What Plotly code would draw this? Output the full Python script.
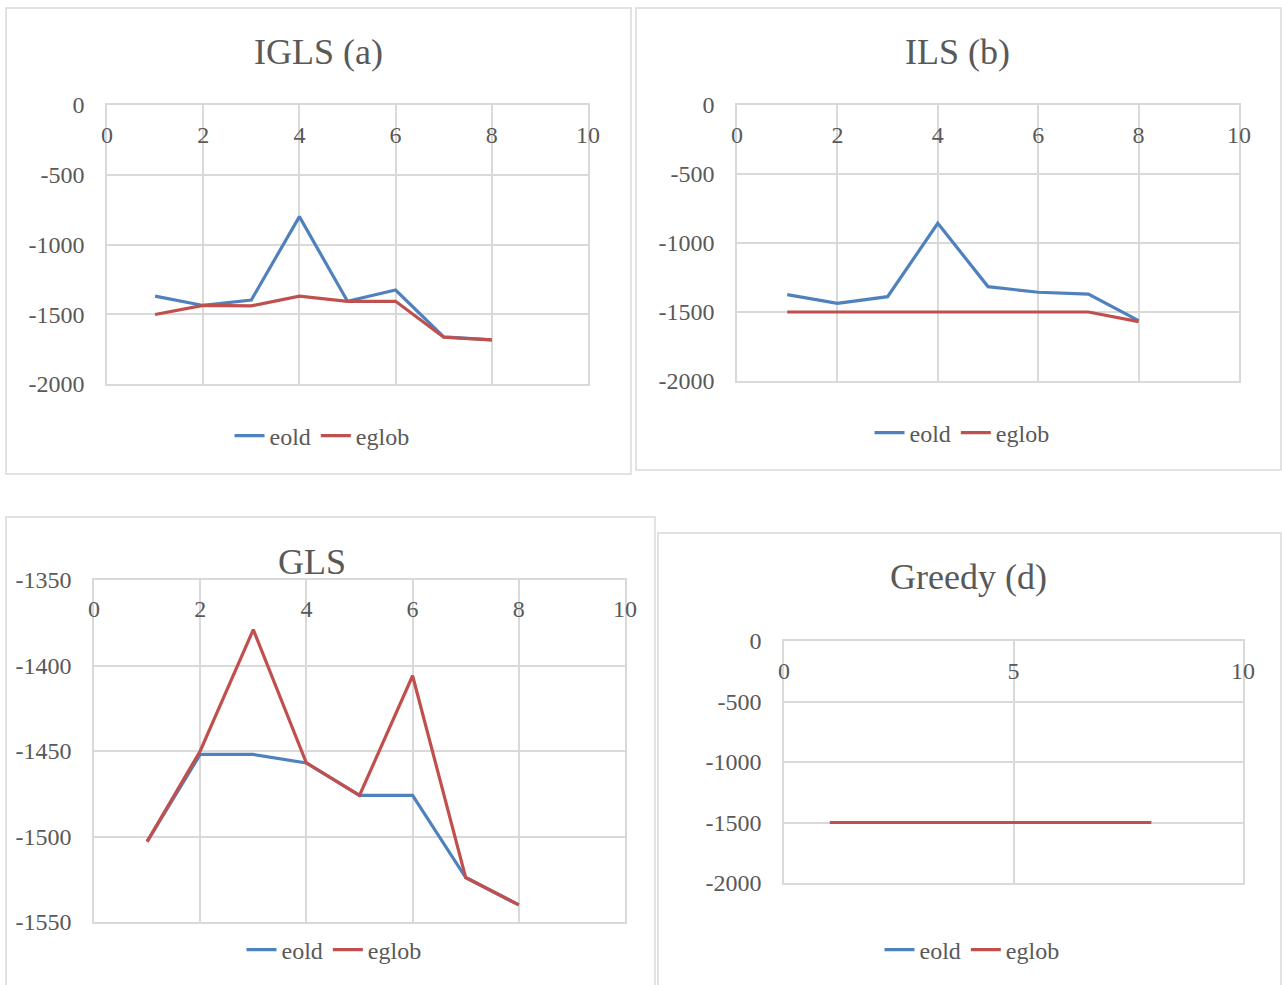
import plotly.graph_objects as go

W, H = 1282, 985

iterations = [1, 2, 3, 4, 5, 6, 7, 8]

igls_eold = [-1370, -1437, -1398, -800, -1407, -1326, -1662, -1683]
igls_eglob = [-1502, -1437, -1440, -1370, -1407, -1407, -1665, -1683]

ils_eold = [-1374, -1437, -1389, -857, -1316, -1357, -1370, -1563]
ils_eglob = [-1500, -1500, -1500, -1500, -1500, -1500, -1500, -1570]

gls_eold = [-1503, -1452, -1452, -1457, -1476, -1476, -1524, -1540]
gls_eglob = [-1503, -1450, -1379, -1457, -1476, -1406, -1524, -1540]

greedy_eold = [-1500, -1500, -1500, -1500, -1500, -1500, -1500, -1500]
greedy_eglob = [-1500, -1500, -1500, -1500, -1500, -1500, -1500, -1500]

titles = ["IGLS (a)", "ILS (b)", "GLS", "Greedy (d)"]
series_names = ["eold", "eglob"]

x_ticks_10 = [0, 2, 4, 6, 8, 10]
x_ticks_5 = [0, 5, 10]
y_ticks_big = [0, -500, -1000, -1500, -2000]
y_ticks_big_text = ["0", "-500", "-1000", "-1500", "-2000"]
y_ticks_gls = [-1350, -1400, -1450, -1500, -1550]
y_ticks_gls_text = ["-1350", "-1400", "-1450", "-1500", "-1550"]

BLUE = "#4f81bd"
RED = "#c0504d"
GRID = "#d9d9d9"
TXT = "#595959"
FONT = "Liberation Serif"
TICK_SIZE = 24


def px_x(v):
    return v / W


def px_y(v):
    return 1 - v / H


# plot areas in pixels: (x0, x1, ytop, ybottom)
areas = [
    (107, 588, 105, 384),
    (737, 1239, 105, 381),
    (94, 625, 580, 922),
    (784, 1243, 641, 883),
]
# pixel row where the x tick labels sit (bottom of label strip)
xlabel_rows = [148, 148, 622, 684]
borders = [
    (6, 631, 8, 474),
    (636, 1281, 8, 470),
    (6, 655, 517, 990),
    (658, 1281, 533, 990),
]
title_pos = [(318, 52), (958, 52), (312, 562), (968, 577)]
legend_pos = [(322, 436), (962, 433), (334, 950), (972, 950)]

data = [
    (igls_eold, igls_eglob),
    (ils_eold, ils_eglob),
    (gls_eold, gls_eglob),
    (greedy_eold, greedy_eglob),
]
yconf = [
    ([-2000, 0], y_ticks_big, y_ticks_big_text),
    ([-2000, 0], y_ticks_big, y_ticks_big_text),
    ([-1550, -1350], y_ticks_gls, y_ticks_gls_text),
    ([-2000, 0], y_ticks_big, y_ticks_big_text),
]
xconf = [x_ticks_10, x_ticks_10, x_ticks_10, x_ticks_5]

fig = go.Figure()
layout = dict(
    width=W,
    height=H,
    margin=dict(l=0, r=0, t=0, b=0, pad=0, autoexpand=False),
    paper_bgcolor="white",
    plot_bgcolor="white",
    font=dict(family=FONT, color=TXT, size=TICK_SIZE),
    shapes=[],
    annotations=[],
)

for i in range(4):
    n = "" if i == 0 else str(i + 1)
    lab = str(i + 5)
    legname = "legend" + n
    eold, eglob = data[i]
    fig.add_trace(go.Scatter(x=iterations, y=eold, mode="lines", name=series_names[0],
                             line=dict(color=BLUE, width=3.2), xaxis="x" + n, yaxis="y" + n,
                             legend=legname))
    fig.add_trace(go.Scatter(x=iterations, y=eglob, mode="lines", name=series_names[1],
                             line=dict(color=RED, width=3.2), xaxis="x" + n, yaxis="y" + n,
                             legend=legname))
    # invisible carrier trace for the tick-label axis
    fig.add_trace(go.Scatter(x=[None], y=[None], mode="lines", showlegend=False,
                             hoverinfo="skip", xaxis="x" + lab, yaxis="y" + n))
    x0, x1, yt, yb = areas[i]
    rng, tv, tt = yconf[i]
    layout["xaxis" + n] = dict(
        domain=[px_x(x0), px_x(x1)], range=[0, 10], anchor="y" + n,
        side="top", tickvals=xconf[i], showticklabels=False,
        showgrid=True, gridcolor=GRID, gridwidth=1.5, zeroline=False,
        showline=True, mirror=True, linecolor=GRID, linewidth=1.5,
        ticks="", fixedrange=True,
    )
    layout["xaxis" + lab] = dict(
        domain=[px_x(x0), px_x(x1)], range=[0, 10], overlaying="x" + n,
        anchor="free", position=px_y(xlabel_rows[i]), side="top",
        tickvals=xconf[i], ticktext=[str(v) for v in xconf[i]],
        showgrid=False, zeroline=False, showline=False, ticks="",
        tickfont=dict(size=TICK_SIZE, color=TXT, family=FONT), fixedrange=True,
    )
    layout["yaxis" + n] = dict(
        domain=[px_y(yb), px_y(yt)], range=rng, anchor="x" + n,
        tickvals=tv, ticktext=tt,
        showgrid=True, gridcolor=GRID, gridwidth=1.5, zeroline=False,
        showline=True, mirror=True, linecolor=GRID, linewidth=1.5,
        tickfont=dict(size=TICK_SIZE, color=TXT, family=FONT), ticks="", ticklabelstandoff=16,
        fixedrange=True,
    )
    lx, ly = legend_pos[i]
    layout[legname] = dict(
        orientation="h", x=px_x(lx), y=px_y(ly), xanchor="center", yanchor="middle",
        font=dict(size=24, color=TXT, family=FONT), bgcolor="rgba(0,0,0,0)",
        itemclick=False, itemdoubleclick=False,
    )
    bx0, bx1, by0, by1 = borders[i]
    layout["shapes"].append(dict(type="rect", xref="paper", yref="paper",
                                 x0=px_x(bx0), x1=px_x(bx1), y0=px_y(by1), y1=px_y(by0),
                                 line=dict(color=GRID, width=1.5), layer="below"))
    tx, ty = title_pos[i]
    layout["annotations"].append(dict(text=titles[i], xref="paper", yref="paper",
                                      x=px_x(tx), y=px_y(ty), xanchor="center", yanchor="middle",
                                      showarrow=False, font=dict(size=36, color=TXT, family=FONT)))

fig.update_layout(**layout)
fig.write_html("out.html")
